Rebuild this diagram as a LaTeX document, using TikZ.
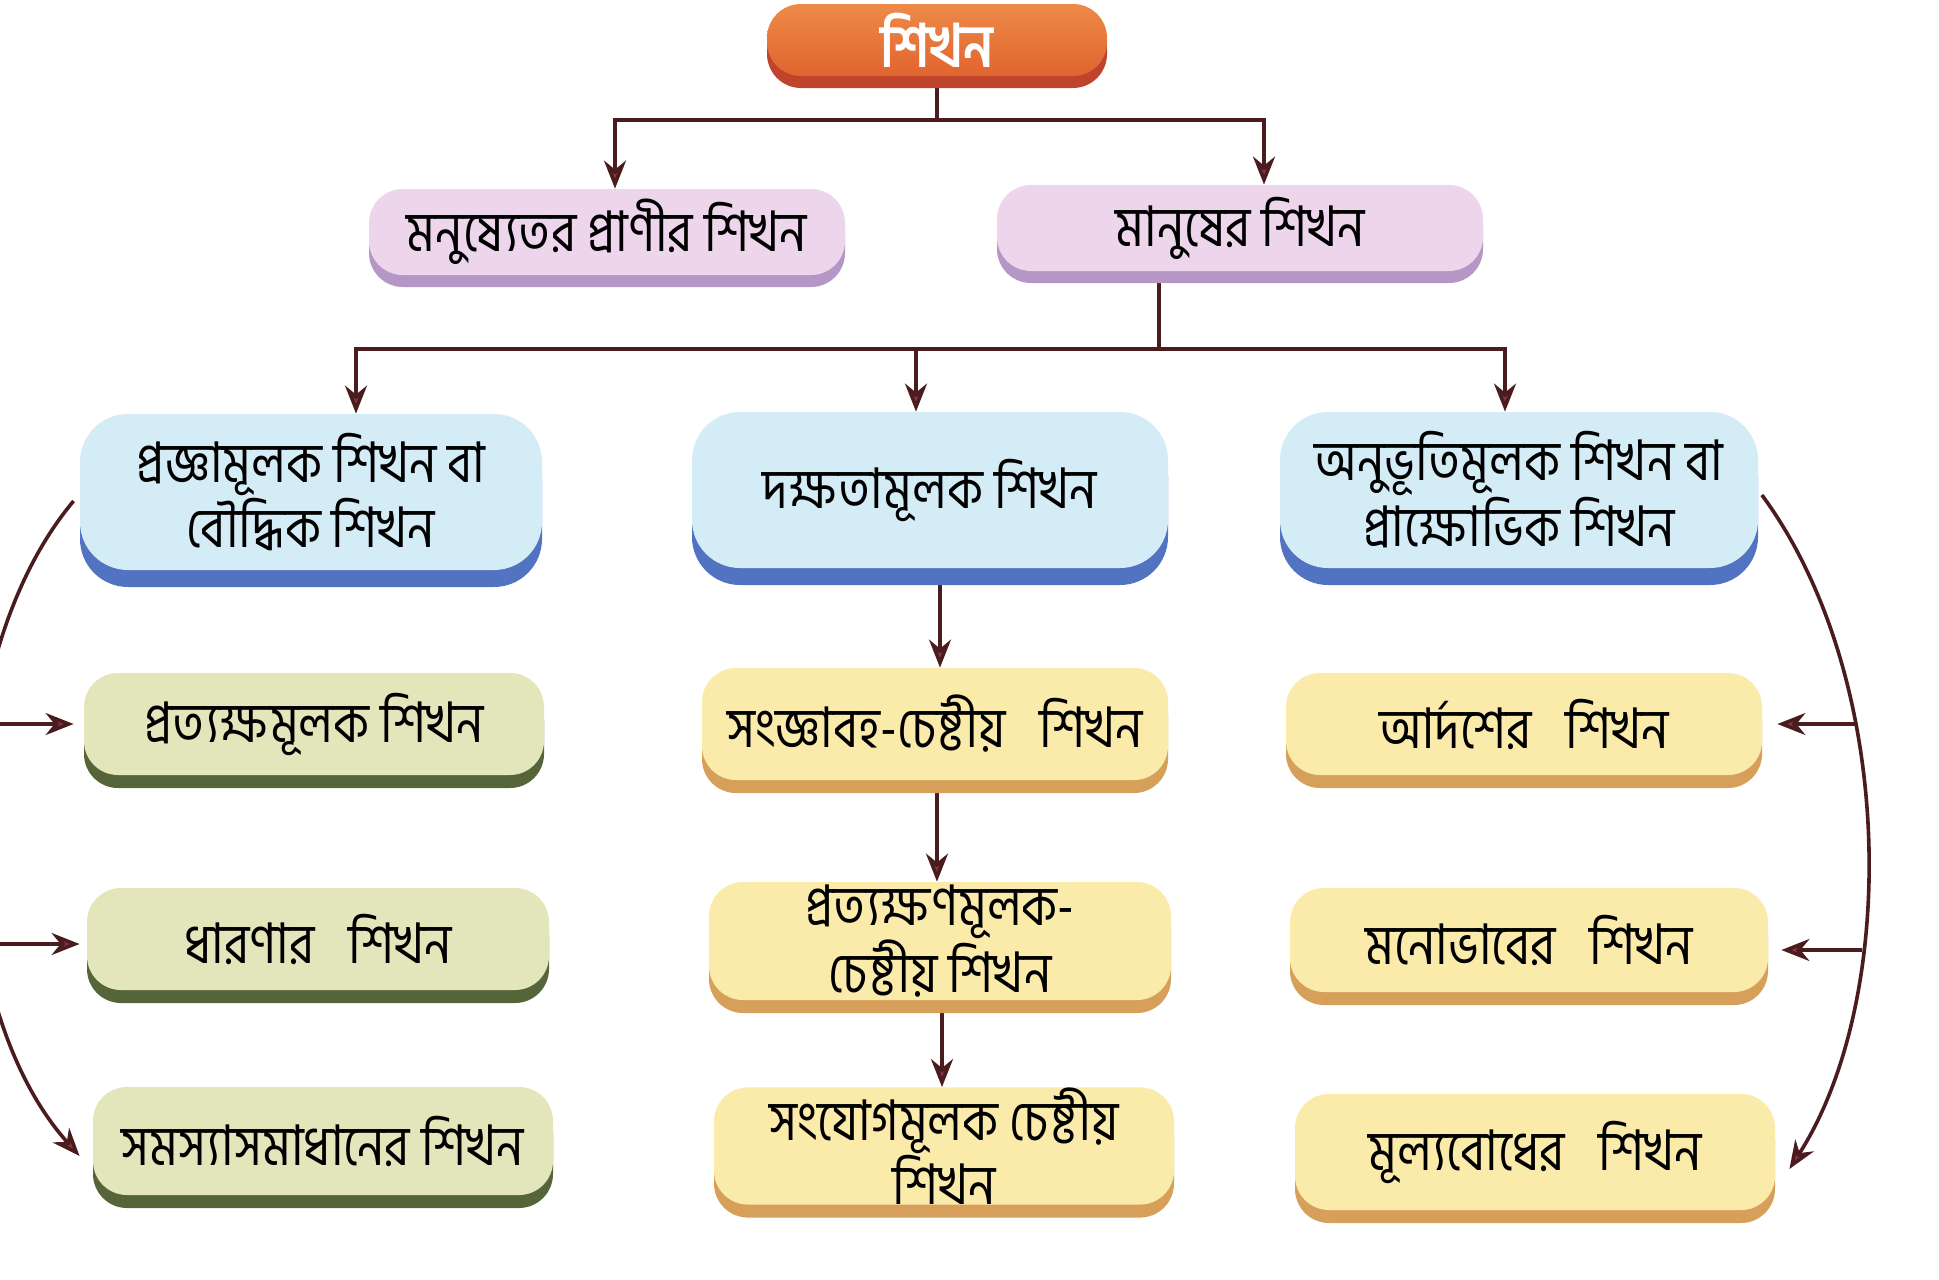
\documentclass[tikz,border=0pt]{standalone}
\usepackage{fontspec}
\newfontfamily\bn[Script=Bengali,FakeStretch=0.86]{Hind Siliguri}
\usetikzlibrary{arrows.meta,shadows,intersections,calc}
\definecolor{cOrange}{HTML}{E8793A}
\definecolor{cOrangeT}{HTML}{EE8A48}
\definecolor{cOrangeB}{HTML}{E0652F}
\definecolor{cOrangeS}{HTML}{C0432B}
\definecolor{cPink}{HTML}{EDD6EC}
\definecolor{cPinkS}{HTML}{B497C4}
\definecolor{cBlue}{HTML}{D4ECF6}
\definecolor{cBlueS}{HTML}{5272C2}
\definecolor{cGreen}{HTML}{E3E6BA}
\definecolor{cGreenS}{HTML}{566539}
\definecolor{cYellow}{HTML}{FBEBAB}
\definecolor{cYellowS}{HTML}{D6A05A}
\definecolor{cLine}{HTML}{4A1C1E}
\definecolor{cArrow}{HTML}{8E3448}
\pgfdeclarelayer{bg}
\pgfsetlayers{bg,main}
\begin{document}
\begin{tikzpicture}[x=0.5pt,y=-0.5pt,
  pill/.style={rounded corners=17pt, inner sep=0pt, align=center,
     font=\bn\fontsize{28}{31}\selectfont},
  topbox/.style={pill, top color=cOrangeT, bottom color=cOrangeB, text=white, font=\bn\bfseries\fontsize{30}{32}\selectfont,
     general shadow={fill=cOrangeS, shadow yshift=-6pt}},
  pinkbox/.style={pill, fill=cPink, general shadow={fill=cPinkS, shadow yshift=-6pt}},
  bluebox/.style={pill, rounded corners=24pt, fill=cBlue, general shadow={fill=cBlueS, shadow yshift=-8.5pt}},
  greenbox/.style={pill, fill=cGreen, general shadow={fill=cGreenS, shadow yshift=-6.5pt}},
  yellowbox/.style={pill, fill=cYellow, general shadow={fill=cYellowS, shadow yshift=-6.5pt}},
  conn/.style={draw=cLine, line width=1.8pt},
  arr/.style={conn, -{Stealth[length=14pt,width=11pt,inset=4.5pt,fill=cArrow]}}
]
\useasboundingbox (0,0) rectangle (1939,1280);

% nodes
\node[topbox, minimum width=170pt, minimum height=36pt] (top) at (937,40) {শিখন};
\node[pinkbox, minimum width=238pt, minimum height=43pt] (A) at (607,232) {মনুষ্যেতর প্রাণীর শিখন};
\node[pinkbox, minimum width=243pt, minimum height=43pt] (B) at (1240,228) {মানুষের শিখন};

\node[bluebox, minimum width=231pt, minimum height=78pt] (C1) at (311,492) {প্রজ্ঞামূলক শিখন বা\\বৌদ্ধিক শিখন};
\node[bluebox, minimum width=238pt, minimum height=78pt] (C2) at (930,490) {দক্ষতামূলক শিখন};
\node[bluebox, minimum width=239pt, minimum height=78pt] (C3) at (1519,490) {অনুভূতিমূলক শিখন বা\\প্রাক্ষোভিক শিখন};

\node[greenbox, minimum width=230pt, minimum height=51pt] (L1) at (314,724) {প্রত্যক্ষমূলক শিখন};
\node[greenbox, minimum width=231pt, minimum height=51pt] (L2) at (318,939) {ধারণার\hspace{0.6em}শিখন};
\node[greenbox, minimum width=230pt, minimum height=54pt] (L3) at (323,1141) {সমস্যাসমাধানের শিখন};

\node[yellowbox, minimum width=233pt, minimum height=56pt] (M1) at (935,724) {সংজ্ঞাবহ-চেষ্টীয়\hspace{0.6em}শিখন};
\node[yellowbox, minimum width=231pt, minimum height=59pt] (M2) at (940,941) {প্রত্যক্ষণমূলক-\\চেষ্টীয় শিখন};
\node[yellowbox, minimum width=230pt, minimum height=58pt] (M3) at (944,1146) {সংযোগমূলক চেষ্টীয়\\শিখন};

\node[yellowbox, minimum width=238pt, minimum height=51pt] (R1) at (1524,724) {আর্দশের\hspace{0.6em}শিখন};
\node[yellowbox, minimum width=239pt, minimum height=52pt] (R2) at (1529,940) {মনোভাবের\hspace{0.6em}শিখন};
\node[yellowbox, minimum width=240pt, minimum height=58pt] (R3) at (1535,1152) {মূল্যবোধের\hspace{0.6em}শিখন};

\coordinate (h1) at (0,120);
\coordinate (h2) at (0,349);
\coordinate (lx) at (-30,0);

\begin{pgfonlayer}{bg}
\fill[white] (0,0) rectangle (1939,1280);
% top tree
\draw[conn] (top.center) -- (top.south |- h1);
\draw[arr] (top.south |- h1) -| ([xshift=4pt]A.north);
\draw[arr] (top.south |- h1) -| ([xshift=12pt]B.north);
% second tree
\draw[conn] ([xshift=-40.5pt]B.center) -- ([xshift=-40.5pt]B.south |- h2);
\draw[arr] ([xshift=-40.5pt]B.south |- h2) -| ([xshift=22.5pt]C1.north);
\draw[arr] ([xshift=-40.5pt]B.south |- h2) -| ([xshift=-7pt]C2.north);
\draw[arr] ([xshift=-40.5pt]B.south |- h2) -| ([xshift=-7pt]C3.north);
% middle column
\draw[arr] ([xshift=5pt]C2.center) -- ([xshift=5pt]C2.center |- M1.north);
\draw[arr] ([xshift=1pt]M1.center) -- ([xshift=1pt]M1.center |- M2.north);
\draw[arr] ([xshift=1pt]M2.center) -- ([xshift=1pt]M2.center |- M3.north);
% left curve
\draw[arr, name path=lc] ([shift={(-3pt,-4.5pt)}]C1.west) .. controls (-60,660) and (-60,1000) .. ([shift={(-6.5pt,-7.5pt)}]L3.west);
\draw[arr] (L1.west -| lx) -- ([xshift=-5pt]L1.west);
\draw[arr] ([yshift=-2.5pt]L2.west -| lx) -- ([shift={(-3.5pt,-2.5pt)}]L2.west);
% right curve
\draw[arr, name path=rc] ([shift={(1.75pt,-2.5pt)}]C3.east) .. controls (1898,680) and (1898,1000) .. ([shift={(7pt,-8.5pt)}]R3.east);
\path[name path=rh1] (R1.east) -- ++(300,0);
\path[name path=rh2] ([yshift=-5pt]R2.east) -- ++(300,0);
\path[name intersections={of=rc and rh1, by=ri1}];
\path[name intersections={of=rc and rh2, by=ri2}];
\draw[arr] (ri1) -- ([xshift=7.5pt]R1.east);
\draw[arr] (ri2) -- ([shift={(6.5pt,-5pt)}]R2.east);
\end{pgfonlayer}
\end{tikzpicture}
\end{document}
